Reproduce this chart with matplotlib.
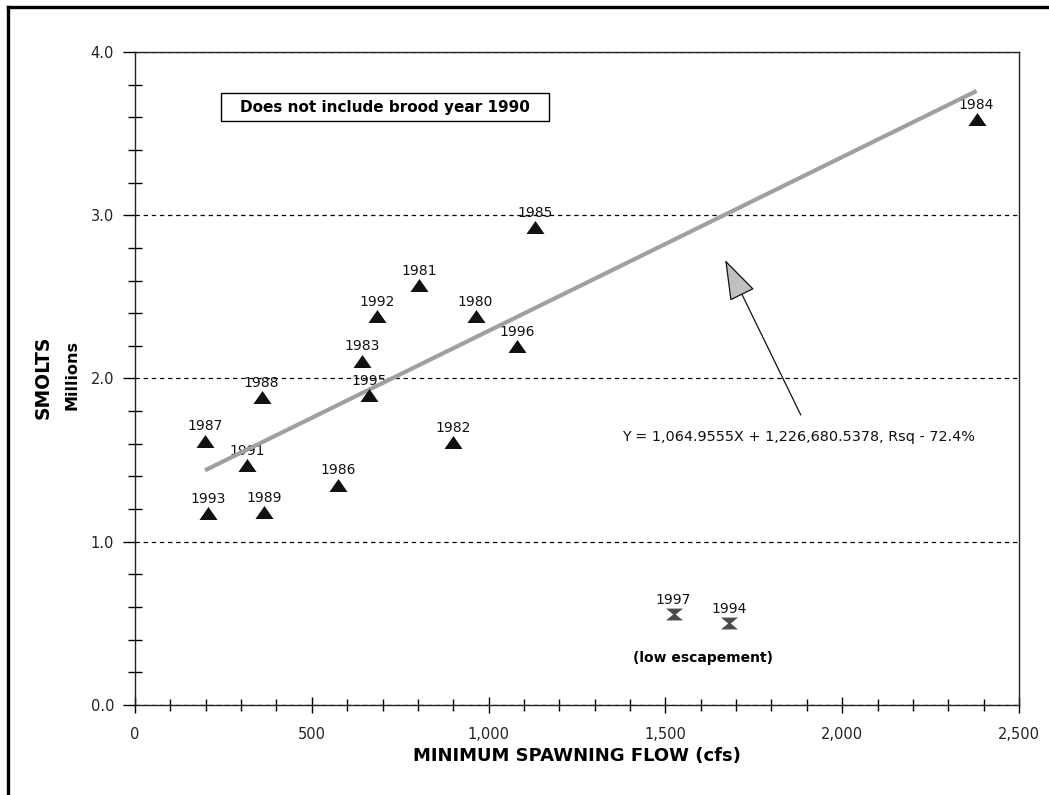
import matplotlib
matplotlib.use("Agg")
import matplotlib.pyplot as plt
from matplotlib.path import Path
from matplotlib.ticker import MultipleLocator, FuncFormatter
from matplotlib.lines import Line2D
from matplotlib.patches import Rectangle
import numpy as np

plt.rcParams['font.family'] = ['DejaVu Sans']

# ---- data ----
years = ["1980", "1981", "1982", "1983", "1984", "1985", "1986", "1987",
         "1988", "1989", "1991", "1992", "1993", "1995", "1996"]
flow_cfs = [963, 803, 899, 643, 2380, 1131, 575, 198,
            358, 366, 316, 685, 207, 662, 1081]
smolts_millions = [2.385, 2.573, 1.61, 2.11, 3.587, 2.926, 1.35, 1.62,
                   1.885, 1.18, 1.47, 2.385, 1.174, 1.90, 2.20]

low_years = ["1997", "1994"]
low_flow_cfs = [1523, 1681]
low_smolts_millions = [0.556, 0.50]

slope = 1064.9555
intercept = 1226680.5378
rsq = 72.4

x_ticks = [0, 500, 1000, 1500, 2000, 2500]
y_ticks = [0.0, 1.0, 2.0, 3.0, 4.0]

# ---- figure ----
fig = plt.figure(figsize=(10.49, 7.95), dpi=100)
ax = fig.add_axes([0.1287, 0.1132, 0.8427, 0.8214])

ax.set_xlim(0, 2500)
ax.set_ylim(0, 4.0)

ax.set_xticks(x_ticks)
ax.set_yticks(y_ticks)
ax.xaxis.set_minor_locator(MultipleLocator(100))
ax.yaxis.set_minor_locator(MultipleLocator(0.2))
ax.xaxis.set_major_formatter(FuncFormatter(lambda v, p: f"{v:,.0f}"))
ax.yaxis.set_major_formatter(FuncFormatter(lambda v, p: f"{v:.1f}"))

ax.tick_params(axis='x', which='major', direction='inout', length=11, width=1,
               labelsize=10.5, pad=10, colors='black', labelcolor='#222222')
ax.tick_params(axis='x', which='minor', direction='inout', length=8, width=1)
ax.tick_params(axis='y', which='major', direction='out', length=9, width=1,
               labelsize=10.5, pad=6, labelcolor='#222222')
ax.tick_params(axis='y', which='minor', direction='inout', length=10.5, width=1)

for s in ax.spines.values():
    s.set_linewidth(1.0)
    s.set_color('#222222')

ax.yaxis.grid(True, which='major', linestyle=(0, (3.5, 3)), color='black', lw=0.9)
ax.set_axisbelow(True)

# regression line
xr = np.array([min(flow_cfs), max(flow_cfs)], dtype=float)
yr = (slope * xr + intercept) / 1e6
ax.plot(xr, yr, color='#a0a0a0', lw=3, solid_capstyle='butt', zorder=4)

# markers
tri = Path([(0, 0.72), (-1, -0.72), (1, -0.72), (0, 0.72)],
           [Path.MOVETO, Path.LINETO, Path.LINETO, Path.CLOSEPOLY])
hourglass = Path([(-1, 0.7), (1, 0.7), (0.15, 0), (1, -0.7), (-1, -0.7), (-0.15, 0), (-1, 0.7)],
                 [Path.MOVETO] + [Path.LINETO] * 5 + [Path.CLOSEPOLY])

ax.scatter(flow_cfs, smolts_millions, marker=tri, s=13 ** 2, color='#111111',
           linewidths=0, zorder=5)
ax.scatter(low_flow_cfs, low_smolts_millions, marker=hourglass, s=12.2 ** 2,
           color='#4a4a4a', linewidths=0, zorder=5)

for yr_, fx, sy in zip(years + low_years, flow_cfs + low_flow_cfs,
                       smolts_millions + low_smolts_millions):
    ax.annotate(yr_, (fx, sy), xytext=(0, 7.3), textcoords='offset points',
                ha='center', va='baseline', fontsize=10, color='#111111', zorder=3)

# note box
ax.add_patch(Rectangle((0.0973, 0.8943), 0.371, 0.0429, transform=ax.transAxes,
                       facecolor='white', edgecolor='black', lw=1, zorder=6))
ax.text(0.2828, 0.9157, "Does not include brood year 1990", transform=ax.transAxes,
        ha='center', va='center', fontsize=11, fontweight='bold', zorder=7)

# equation and arrow
ax.annotate('', xy=(1669, 2.726), xytext=(1883, 1.776),
            arrowprops=dict(arrowstyle='-|>,head_length=26,head_width=8.8',
                            mutation_scale=1, fc='#c0c0c0', ec='#111111', lw=0.9,
                            shrinkA=0, shrinkB=0), zorder=6)
ax.text(1377, 1.639, f"Y = {slope:,.4f}X + {intercept:,.4f}, Rsq - {rsq}%",
        ha='left', va='center', fontsize=10.4, color='#111111')

ax.text(1606, 0.288, "(low escapement)", ha='center', va='center',
        fontsize=10, fontweight='bold')

# axis labels
ax.set_xlabel("MINIMUM SPAWNING FLOW (cfs)", fontsize=13, fontweight='bold', va='center')
ax.xaxis.set_label_coords(0.4994, -0.078)
ax.text(-0.1041, 0.502, "SMOLTS", transform=ax.transAxes, rotation=90,
        ha='center', va='center', fontsize=13.5, fontweight='bold')
ax.text(-0.0713, 0.505, "Millions", transform=ax.transAxes, rotation=90,
        ha='center', va='center', fontsize=11.5, fontweight='bold')

# figure border (left and top)
fig.add_artist(Line2D([0.0081, 0.0081], [0, 0.9918], transform=fig.transFigure,
                      color='black', lw=2.4))
fig.add_artist(Line2D([0.0081, 1.0], [0.9918, 0.9918], transform=fig.transFigure,
                      color='black', lw=2.4))

fig.savefig("out.png", dpi=100)
